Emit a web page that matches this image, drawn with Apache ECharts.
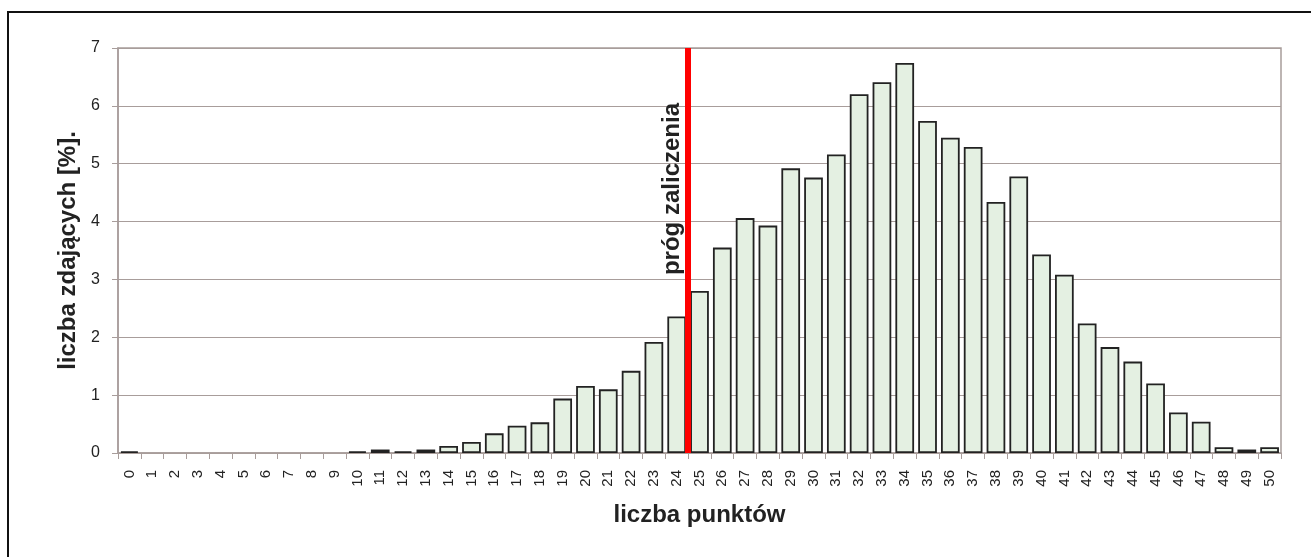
<!DOCTYPE html>
<html>
<head>
<meta charset="utf-8">
<script src="https://cdn.jsdelivr.net/npm/echarts@6/dist/echarts.min.js"></script>
<style>
html,body{margin:0;padding:0;background:#fff;}
#chart{width:1311px;height:557px;}
</style>
</head>
<body>
<div id="chart"></div>
<script>
const categories = ['0','1','2','3','4','5','6','7','8','9','10','11','12','13','14','15','16','17','18','19','20','21','22','23','24','25','26','27','28','29','30','31','32','33','34','35','36','37','38','39','40','41','42','43','44','45','46','47','48','49','50'];
const values = [0.03,0,0,0,0,0,0,0,0,0,0.03,0.06,0.03,0.06,0.12,0.19,0.34,0.47,0.53,0.94,1.16,1.10,1.42,1.92,2.36,2.80,3.55,4.06,3.93,4.92,4.76,5.16,6.20,6.41,6.74,5.74,5.45,5.29,4.34,4.78,3.43,3.08,2.24,1.83,1.58,1.20,0.70,0.54,0.10,0.06,0.10];
const yTicks = [0,1,2,3,4,5,6,7];
const threshold = 25;
const thresholdLabel = 'próg zaliczenia';
const xTitle = 'liczba punktów';
const yTitle = 'liczba zdających [%].';

const chart = echarts.init(document.getElementById('chart'), null, {renderer:'canvas'});
const axisGray = '#a89d9b';
const barData = values.map(v => v === 0 ? {value: v, itemStyle: {borderWidth: 0, opacity: 0}} : v);
chart.setOption({
  animation: false,
  textStyle: {fontFamily: 'Liberation Sans, Arial, sans-serif'},
  graphic: [{
    type: 'rect', shape: {x: 8, y: 12, width: 1400, height: 700},
    style: {fill: 'none', stroke: '#111', lineWidth: 2}, z: 100
  }],
  grid: {left: 118, right: 30, top: 48, bottom: 104, show: true, borderColor: axisGray, borderWidth: 1.5, backgroundColor: 'transparent'},
  xAxis: [{
    type: 'category', data: categories, boundaryGap: true,
    axisLine: {lineStyle: {color: axisGray, width: 1.5}},
    axisTick: {show: true, alignWithLabel: false, length: 6, lineStyle: {color: axisGray}},
    axisLabel: {rotate: 90, interval: 0, fontSize: 15, color: '#222', margin: 17},
    name: xTitle, nameLocation: 'middle', nameGap: 50,
    nameTextStyle: {fontSize: 24, fontWeight: 'bold', color: '#222'}
  }, {
    type: 'value', min: 0, max: categories.length, show: false
  }],
  yAxis: {
    type: 'value', min: yTicks[0], max: yTicks[yTicks.length-1], interval: 1,
    axisLine: {show: true, lineStyle: {color: axisGray, width: 1.5}},
    axisTick: {show: true, length: 6, lineStyle: {color: axisGray}},
    axisLabel: {fontSize: 16, color: '#222', margin: 18},
    splitLine: {lineStyle: {color: axisGray, width: 1.2}},
    name: yTitle, nameLocation: 'middle', nameGap: 37, nameRotate: 90,
    nameTextStyle: {fontSize: 24, fontWeight: 'bold', color: '#222'}
  },
  series: [{
    type: 'bar', data: barData, barCategoryGap: '18%',
    itemStyle: {color: '#e4f0e2', borderColor: '#222', borderWidth: 1.8}
  }, {
    type: 'line', xAxisIndex: 1, data: [], z: 5,
    markLine: {
      symbol: 'none', silent: true,
      lineStyle: {color: '#ff0000', width: 6, type: 'solid'},
      label: {show: true, formatter: thresholdLabel, position: 'insideEndTop', distance: [55, 4],
        fontSize: 24, fontWeight: 'bold', color: '#222'},
      data: [{xAxis: threshold}]
    }
  }]
});
</script>
</body>
</html>
